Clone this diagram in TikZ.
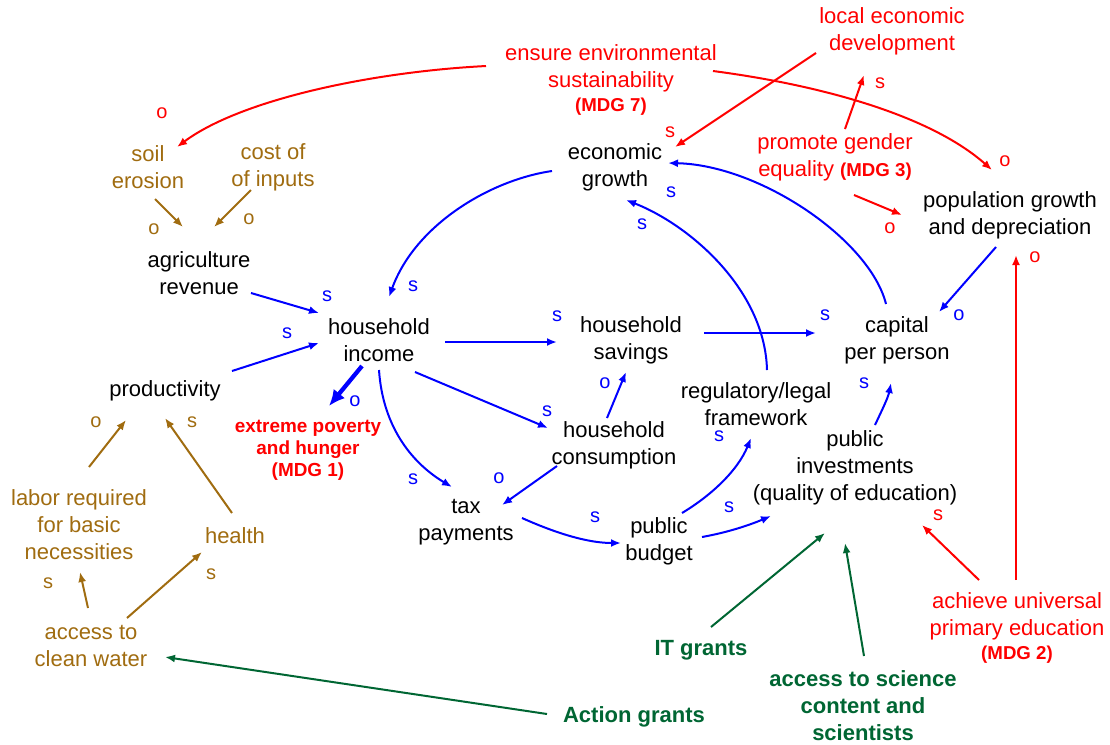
\documentclass[tikz,border=0pt]{standalone}
\usepackage{fontspec}
\setmainfont{Liberation Sans}
\usetikzlibrary{arrows.meta,calc}
\definecolor{brn}{RGB}{160,108,16}
\definecolor{grn}{RGB}{0,102,51}
\definecolor{rd}{RGB}{255,0,0}
\definecolor{bl}{RGB}{0,0,255}
\newcommand{\mdg}[1]{{\fontsize{14}{16}\selectfont\bfseries #1}}
\begin{document}
\begin{tikzpicture}[x=0.75pt,y=-0.75pt,
  var/.style={align=center,inner sep=0pt,font=\fontsize{16.5}{20.25}\selectfont},
  goal/.style={var,text=rd},
  ext/.style={var,text=brn},
  grant/.style={var,text=grn,font=\fontsize{16.5}{20.25}\selectfont\bfseries},
  pol/.style={inner sep=0pt,font=\fontsize{15}{18}\selectfont},
  arr/.style={line width=1.5pt,-{Latex[length=7.5pt,width=6pt]}},
  thick arr/.style={line width=3.2pt,-{Latex[length=12pt,width=11pt]}},
]
\useasboundingbox (0,0) rectangle (1110,744);

% ---- goals (red)
\node[goal] (env) at (611,80) {ensure environmental\\sustainability\\[-2.25pt]\mdg{(MDG 7)}};
\node[goal] (local) at (892,31) {local economic\\development};
\node[goal] (gender) at (835,157) {promote gender\\equality \mdg{(MDG 3)}};
\node[goal] (mdg2) at (1017,628) {achieve universal\\primary education\\[-2.25pt]\mdg{(MDG 2)}};
\node[goal,font=\fontsize{14.2}{16.5}\selectfont\bfseries] (pov) at (308,450) {extreme poverty\\and hunger\\(MDG 1)};

% ---- variables (black)
\node[var] (econ) at (615,167) {economic\\growth};
\node[var] (pop) at (1010,215) {population growth\\and depreciation};
\node[var] (agri) at (199,273) {agriculture\\revenue};
\node[var] (income) at (379,340) {household\\income};
\node[var] (savings) at (631,340) {household\\savings};
\node[var] (capital) at (897,340) {capital\\per person};
\node[var] (prod) at (165,391) {productivity};
\node[var] (reg) at (756,404) {regulatory/legal\\framework};
\node[var] (cons) at (614,445) {household\\consumption};
\node[var] (inv) at (855,468) {public\\investments\\(quality of education)};
\node[var] (tax) at (466,522) {tax\\payments};
\node[var] (budget) at (659,541) {public\\budget};

% ---- local factors (brown)
\node[ext] (soil) at (148,167) {soil\\erosion};
\node[ext] (cost) at (273,167) {cost of\\of inputs};
\node[ext] (labor) at (79,525) {labor required\\for basic\\necessities};
\node[ext] (health) at (235,536) {health};
\node[ext] (water) at (91,646) {access to\\clean water};

% ---- grants (green)
\node[grant] (it) at (701,650) {IT grants};
\node[grant] (action) at (634,717) {Action grants};
\node[grant] (science) at (863,706) {access to science\\content and\\scientists};

% ---- red connectors
\draw[arr,rd] ($(env)+(-125,-14)$) .. controls ($(env)+(-241,-8)$) and ($(soil)+(92,-67)$) .. ($(soil)+(29,-20)$);
\draw[arr,rd] ($(env)+(102,-9)$) .. controls ($(env)+(209,5)$) and ($(pop)+(-80,-100)$) .. ($(pop)+(-18,-45)$);
\draw[arr,rd] ($(local)+(-76,22)$) -- ($(econ)+(60,-20)$);
\draw[arr,rd] ($(gender)+(10,-28)$) -- ($(local)+(-28,44)$);
\draw[arr,rd] ($(gender)+(19,38)$) -- ($(pop)+(-108,0)$);
\draw[arr,rd] ($(mdg2)+(-1,-48)$) -- ($(pop)+(6,40)$);
\draw[arr,rd] ($(mdg2)+(-38,-48)$) -- ($(inv)+(67,57)$);

% ---- blue connectors
\draw[arr,bl] ($(econ)+(-63,4)$) .. controls ($(econ)+(-125,13)$) and ($(income)+(36,-115)$) .. ($(income)+(10,-43)$);
\draw[arr,bl] ($(agri)+(52,20)$) -- ($(income)+(-60,-27)$);
\draw[arr,bl] ($(prod)+(67,-20)$) -- ($(income)+(-60,3)$);
\draw[arr,bl] ($(income)+(66,2)$) -- ($(savings)+(-74,2)$);
\draw[arr,bl] ($(savings)+(73,-7)$) -- ($(capital)+(-81,-7)$);
\draw[arr,bl] ($(pop)+(-14,32)$) -- ($(capital)+(42,-28)$);
\draw[arr,bl] ($(capital)+(-11,-36)$) .. controls ($(capital)+(-27,-100)$) and ($(econ)+(145,-2)$) .. ($(econ)+(53,-4)$);
\draw[arr,bl] ($(reg)+(11,-34)$) .. controls ($(reg)+(9,-114)$) and ($(econ)+(75,58)$) .. ($(econ)+(11,33)$);
\draw[thick arr,bl] ($(income)+(-17,26)$) -- ($(pov)+(21,-44)$);
\draw[arr,bl] ($(income)+(0,30)$) .. controls ($(income)+(4,90)$) and ($(tax)+(-51,-57)$) .. ($(tax)+(-14,-35)$);
\draw[arr,bl] ($(income)+(36,32)$) -- ($(cons)+(-66,-17)$);
\draw[arr,bl] ($(cons)+(-7,-27)$) -- ($(savings)+(-5,32)$);
\draw[arr,bl] ($(cons)+(-57,21)$) -- ($(tax)+(36,-17)$);
\draw[arr,bl] ($(tax)+(56,-4)$) .. controls ($(tax)+(94,13)$) and ($(budget)+(-69,2)$) .. ($(budget)+(-38,2)$);
\draw[arr,bl] ($(budget)+(23,-28)$) .. controls ($(budget)+(53,-46)$) and ($(reg)+(-18,66)$) .. ($(reg)+(-5,34)$);
\draw[arr,bl] ($(budget)+(43,-4)$) .. controls ($(budget)+(71,-9)$) and ($(inv)+(-103,56)$) .. ($(inv)+(-84,48)$);
\draw[arr,bl] ($(inv)+(20,-43)$) .. controls ($(inv)+(27,-58)$) and ($(capital)+(-9,58)$) .. ($(capital)+(-6,43)$);

% ---- green connectors
\draw[arr,grn] ($(action)+(-87,-3)$) -- ($(water)+(74,11)$);
\draw[arr,grn] ($(it)+(10,-23)$) -- ($(inv)+(-30,65)$);
\draw[arr,grn] ($(science)+(1,-50)$) -- ($(inv)+(-10,75)$);

% ---- brown connectors
\draw[arr,brn] ($(soil)+(7,32)$) -- ($(agri)+(-16,-46)$);
\draw[arr,brn] ($(cost)+(-22,23)$) -- ($(agri)+(15,-46)$);
\draw[arr,brn] ($(labor)+(10,-58)$) -- ($(prod)+(-39,29)$);
\draw[arr,brn] ($(health)+(-3,-23)$) -- ($(prod)+(0,27)$);
\draw[arr,brn] ($(water)+(-3,-38)$) -- ($(labor)+(1,47)$);
\draw[arr,brn] ($(water)+(36,-28)$) -- ($(health)+(-33,16)$);

% ---- polarity labels
\node[pol,text=rd] (rp1) at (162,113) {o};
\node[pol,text=rd] (rp2) at (670,132) {s};
\node[pol,text=rd] (rp3) at (880,83) {s};
\node[pol,text=rd] (rp4) at (1005,161) {o};
\node[pol,text=rd] (rp5) at (890,228) {o};
\node[pol,text=rd] (rp6) at (1035,257) {o};
\node[pol,text=rd] (rp7) at (938,515) {s};

\node[pol,text=brn] (wp1) at (154,229) {o};
\node[pol,text=brn] (wp2) at (249,219) {o};
\node[pol,text=brn] (wp3) at (96,422) {o};
\node[pol,text=brn] (wp4) at (192,422) {s};
\node[pol,text=brn] (wp5) at (48,583) {s};
\node[pol,text=brn] (wp6) at (211,574) {s};

\node[pol,text=bl] (bp1) at (327,296) {s};
\node[pol,text=bl] (bp2) at (413,286) {s};
\node[pol,text=bl] (bp3) at (287,333) {s};
\node[pol,text=bl] (bp4) at (557,316) {s};
\node[pol,text=bl] (bp5) at (825,315) {s};
\node[pol,text=bl] (bp6) at (959,315) {o};
\node[pol,text=bl] (bp7) at (671,192) {s};
\node[pol,text=bl] (bp8) at (642,224) {s};
\node[pol,text=bl] (bp9) at (355,401) {o};
\node[pol,text=bl] (bp10) at (547,411) {s};
\node[pol,text=bl] (bp11) at (605,383) {o};
\node[pol,text=bl] (bp12) at (864,383) {s};
\node[pol,text=bl] (bp13) at (719,436) {s};
\node[pol,text=bl] (bp14) at (413,479) {s};
\node[pol,text=bl] (bp15) at (499,478) {o};
\node[pol,text=bl] (bp16) at (595,517) {s};
\node[pol,text=bl] (bp17) at (729,507) {s};
\end{tikzpicture}
\end{document}
